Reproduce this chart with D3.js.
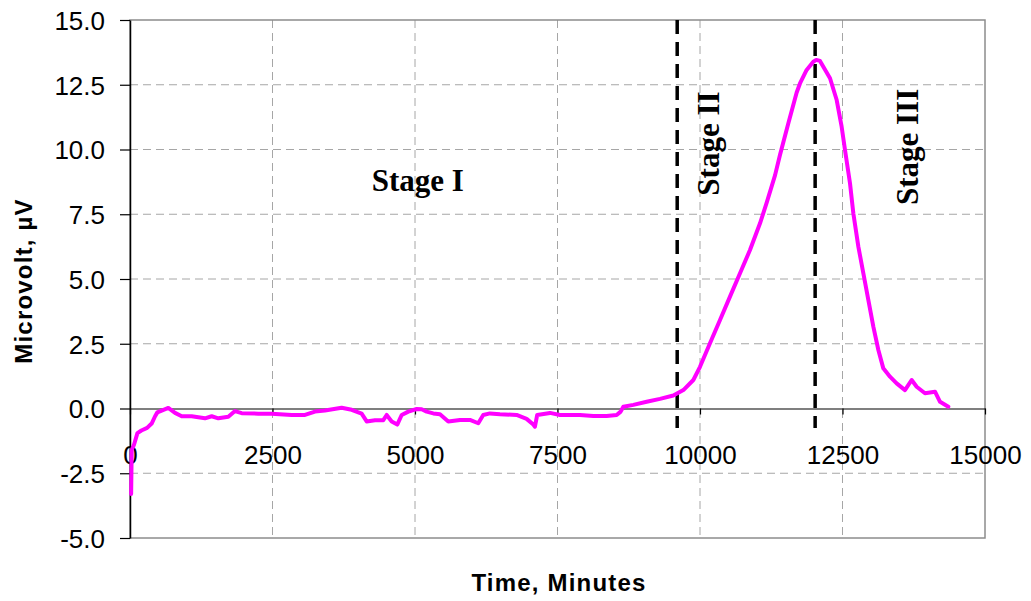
<!DOCTYPE html>
<html>
<head>
<meta charset="utf-8">
<script src="https://cdn.jsdelivr.net/npm/d3@7"></script>
<style>
  html, body { margin: 0; padding: 0; background: #fff; }
  svg { display: block; }
</style>
</head>
<body>
<svg id="chart" width="1031" height="601"></svg>
<script>
// ---- data ----
const timeMinutes = [20, 30, 70, 130, 200, 300, 380, 440, 480, 556, 672, 790, 907, 1082, 1316, 1433, 1550, 1725, 1842, 1959, 2251, 2485, 2836, 3070, 3245, 3420, 3713, 3889, 4064, 4152, 4298, 4444, 4503, 4591, 4689, 4766, 4883, 5029, 5117, 5204, 5321, 5438, 5584, 5789, 5964, 6110, 6197, 6314, 6490, 6783, 6958, 7075, 7104, 7144, 7368, 7543, 7894, 8128, 8362, 8538, 8608, 8655, 8830, 9064, 9298, 9532, 9708, 9883, 10000, 10175, 10351, 10526, 10702, 10877, 11053, 11170, 11316, 11404, 11550, 11696, 11754, 11871, 11988, 12040, 12105, 12281, 12398, 12485, 12544, 12632, 12690, 12778, 12866, 12953, 13041, 13129, 13216, 13333, 13450, 13596, 13713, 13801, 13947, 14123, 14211, 14357];
const microvolt = [-3.3, -1.6, -1.4, -0.95, -0.85, -0.75, -0.58, -0.3, -0.15, -0.08, 0.02, -0.17, -0.3, -0.3, -0.38, -0.3, -0.38, -0.32, -0.1, -0.18, -0.2, -0.2, -0.25, -0.25, -0.12, -0.08, 0.03, -0.05, -0.2, -0.5, -0.45, -0.45, -0.25, -0.5, -0.62, -0.25, -0.12, -0.02, -0.03, -0.12, -0.19, -0.22, -0.5, -0.44, -0.44, -0.57, -0.25, -0.19, -0.22, -0.25, -0.4, -0.62, -0.7, -0.25, -0.17, -0.25, -0.25, -0.29, -0.29, -0.25, -0.12, 0.07, 0.14, 0.26, 0.37, 0.5, 0.71, 1.1, 1.61, 2.52, 3.42, 4.32, 5.22, 6.12, 7.15, 7.95, 9.0, 9.8, 11.01, 12.2, 12.55, 13.07, 13.39, 13.46, 13.42, 12.75, 11.91, 10.88, 9.98, 8.69, 7.54, 6.25, 5.22, 4.19, 3.16, 2.26, 1.55, 1.23, 0.97, 0.71, 1.1, 0.84, 0.59, 0.65, 0.26, 0.07];

const xTicks = [0, 2500, 5000, 7500, 10000, 12500, 15000];
const xTickLabels = ["0", "2500", "5000", "7500", "10000", "12500", "15000"];
const yTicks = [-5, -2.5, 0, 2.5, 5, 7.5, 10, 12.5, 15];
const yTickLabels = ["-5.0", "-2.5", "0.0", "2.5", "5.0", "7.5", "10.0", "12.5", "15.0"];

const stageBoundaries = [9600, 12020];
const stageBoundaryRange = [-0.75, 15];
const stageLabels = ["Stage I", "Stage II", "Stage III"];
const stageLabelX = [5050, 10330, 13820];
const stageLabelY = [8.4, 10.23, 10.1];
const stageLabelRotated = [false, true, true];

const xTitle = "Time, Minutes";
const yTitle = "Microvolt, µV";

// ---- layout ----
const svg = d3.select("#chart");
const plotLeft = 130, plotRight = 985, plotTop = 20, plotBottom = 538;
const x = d3.scaleLinear().domain([0, 15000]).range([plotLeft, plotRight]);
const y = d3.scaleLinear().domain([-5, 15]).range([plotBottom, plotTop]);

const tickFont = "'Liberation Sans', Arial, sans-serif";
const serif = "'Liberation Serif', 'Times New Roman', serif";

// grid
const grid = svg.append("g");
grid.selectAll("line.h").data(yTicks.filter(d => d > -5 && d < 15 && d !== 0)).enter()
  .append("line")
  .attr("x1", plotLeft).attr("x2", plotRight)
  .attr("y1", d => y(d)).attr("y2", d => y(d))
  .attr("stroke", "#a6a6a6").attr("stroke-width", 1).attr("stroke-dasharray", "8,5");
grid.selectAll("line.v").data(xTicks.filter(d => d > 0 && d < 15000)).enter()
  .append("line")
  .attr("y1", plotTop).attr("y2", plotBottom)
  .attr("x1", d => x(d)).attr("x2", d => x(d))
  .attr("stroke", "#a6a6a6").attr("stroke-width", 1).attr("stroke-dasharray", "8,5");

// frame
svg.append("rect")
  .attr("x", plotLeft).attr("y", plotTop).attr("width", plotRight - plotLeft).attr("height", plotBottom - plotTop)
  .attr("fill", "none").attr("stroke", "#8c8c8c").attr("stroke-width", 1.5);

// y axis
const yAxis = d3.axisLeft(y).tickValues(yTicks)
  .tickFormat((d, i) => yTickLabels[i]).tickSizeInner(10).tickSizeOuter(0).tickPadding(15);
const gy = svg.append("g").attr("transform", `translate(${plotLeft},0)`).call(yAxis);
gy.select(".domain").attr("stroke", "#000").attr("stroke-width", 1.5);
gy.selectAll(".tick line").attr("stroke", "#000").attr("stroke-width", 1.2);
gy.selectAll(".tick text").attr("font-family", tickFont).attr("font-size", 26)
  .attr("fill", "#000").attr("dy", "0.36em");

// x axis at y=0
const xAxis = d3.axisBottom(x).tickValues(xTicks)
  .tickFormat((d, i) => xTickLabels[i]).tickSizeInner(6).tickSizeOuter(0);
const gx = svg.append("g").attr("transform", `translate(0,${y(0)})`).call(xAxis);
gx.select(".domain").attr("stroke", "#000").attr("stroke-width", 1.2);
gx.selectAll(".tick line").attr("stroke", "#000").attr("stroke-width", 1.2);
gx.selectAll(".tick text").attr("font-family", tickFont).attr("font-size", 26)
  .attr("fill", "#000").attr("y", 55).attr("dy", 0);

// stage boundaries
svg.append("g").selectAll("line").data(stageBoundaries).enter()
  .append("line")
  .attr("x1", d => x(d)).attr("x2", d => x(d))
  .attr("y1", y(stageBoundaryRange[1])).attr("y2", y(stageBoundaryRange[0]))
  .attr("stroke", "#000").attr("stroke-width", 3.5).attr("stroke-dasharray", "14,8");

// data line
const pts = timeMinutes.map((t, i) => [t, microvolt[i]]);
svg.append("path").datum(pts)
  .attr("d", d3.line().x(d => x(d[0])).y(d => y(d[1])))
  .attr("fill", "none").attr("stroke", "#ff00ff").attr("stroke-width", 4)
  .attr("stroke-linejoin", "round").attr("stroke-linecap", "round");

// stage labels
stageLabels.forEach((s, i) => {
  const px = x(stageLabelX[i]), py = y(stageLabelY[i]);
  const t = svg.append("text").text(s)
    .attr("font-family", serif).attr("font-weight", "bold").attr("font-size", 31)
    .attr("fill", "#000").attr("text-anchor", "middle");
  if (stageLabelRotated[i]) {
    t.attr("transform", `translate(${px},${py}) rotate(-90)`).attr("x", 0).attr("y", 0);
  } else {
    t.attr("x", px).attr("y", py);
  }
});

// axis titles
svg.append("text").text(xTitle)
  .attr("x", 559).attr("y", 591)
  .attr("text-anchor", "middle").attr("font-family", tickFont).attr("font-weight", "bold")
  .attr("font-size", 24).attr("letter-spacing", 1.2).attr("fill", "#000");
svg.append("text").text(yTitle)
  .attr("transform", "translate(32,281) rotate(-90)")
  .attr("text-anchor", "middle").attr("font-family", tickFont).attr("font-weight", "bold")
  .attr("font-size", 24).attr("letter-spacing", 1.2).attr("fill", "#000");
</script>
</body>
</html>
